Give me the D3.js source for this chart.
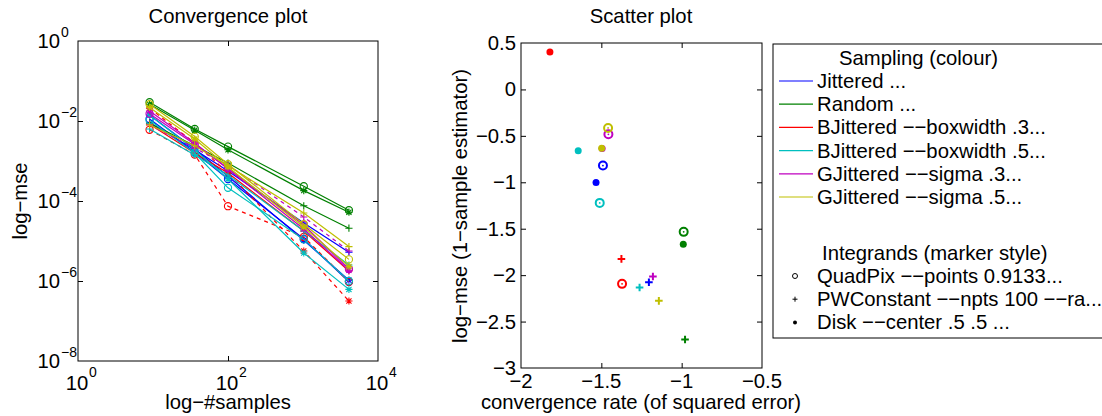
<!DOCTYPE html>
<html>
<head>
<meta charset="utf-8">
<title>Convergence and scatter plot</title>
<script src="https://cdn.jsdelivr.net/npm/d3@7"></script>
<style>
  body { margin: 0; background: #fff; }
  svg { display: block; font-family: "Liberation Sans", Arial, Helvetica, sans-serif; }
  text { fill: #000; }
</style>
</head>
<body>
<svg id="chart" width="1102" height="416"></svg>
<script>
// number of samples used in each run
var samples = [9, 36, 100, 1024, 4096];

// sampling methods (colour) and integrands (marker)
var methods = ['Jittered ...', 'Random ...', 'BJittered \u2212\u2212boxwidth .3...',
  'BJittered \u2212\u2212boxwidth .5...', 'GJittered \u2212\u2212sigma .3...', 'GJittered \u2212\u2212sigma .5...'];
var integrands = ['QuadPix \u2212\u2212points 0.9133...', 'PWConstant \u2212\u2212npts 100 \u2212\u2212ra...',
  'Disk \u2212\u2212center .5 .5 ...'];

// log10(mse) per method, rows = QuadPix, PWConstant, Disk
var jitteredMse = [[-1.95, -2.78, -3.45, -4.95, -6.02], [-2.05, -2.72, -3.25, -4.55, -5.28], [-1.85, -2.70, -3.38, -4.98, -5.98]];
var randomMse = [[-1.53, -2.20, -2.64, -3.63, -4.23], [-2.05, -2.62, -3.05, -4.12, -4.68], [-1.58, -2.23, -2.72, -3.74, -4.28]];
var bjit3Mse = [[-2.22, -2.84, -4.13, -4.90, -6.02], [-2.08, -2.80, -3.30, -4.75, -5.75], [-1.68, -2.55, -3.30, -5.25, -6.50]];
var bjit5Mse = [[-1.98, -2.80, -3.67, -4.96, -6.00], [-2.20, -2.85, -3.35, -4.75, -5.60], [-1.85, -2.72, -3.45, -5.30, -6.21]];
var gjit3Mse = [[-1.82, -2.58, -3.18, -4.60, -5.70], [-2.10, -2.68, -3.10, -4.40, -5.25], [-1.75, -2.55, -3.20, -4.70, -5.73]];
var gjit5Mse = [[-1.58, -2.39, -3.08, -4.58, -5.46], [-2.10, -2.62, -3.12, -4.30, -5.14], [-1.66, -2.45, -3.15, -4.65, -5.64]];

// scatter: convergence rate and 1-sample log-mse, rows = methods, cols = integrands
var convRate = [[-1.49, -1.204, -1.533], [-0.9875, -0.979, -0.99], [-1.371, -1.375, -1.82],
  [-1.51, -1.262, -1.644], [-1.456, -1.179, -1.495], [-1.458, -1.142, -1.498]];
var oneSampleMse = [[-0.82, -2.076, -1.003], [-1.534, -2.693, -1.667], [-2.094, -1.825, 0.403],
  [-1.222, -2.133, -0.66], [-0.483, -2.015, -0.635], [-0.415, -2.277, -0.633]];

// tick values
var convXTicks = [1, 100, 10000];
var convYTicks = [1, 1e-2, 1e-4, 1e-6, 1e-8];
var scatXTicks = [-2, -1.5, -1, -0.5];
var scatYTicks = [0.5, 0, -0.5, -1, -1.5, -2, -2.5, -3];

var colors = ['#0000ff', '#008000', '#ff0000', '#00bfbf', '#bf00bf', '#bfbf00'];
var markers = ['o', '+', '*'];
var dashed = { '2-0': true, '2-2': true, '4-1': true };
var fs = 20.3;

var allMse = [jitteredMse, randomMse, bjit3Mse, bjit5Mse, gjit3Mse, gjit5Mse];
var svg = d3.select('#chart');
var minus = function (s) { return String(s).replace('-', '\u2212'); };

function drawMarker(g, type, x, y, color, s, sw) {
  if (type == 'o') {
    g.append('circle').attr('cx', x).attr('cy', y).attr('r', s)
      .attr('fill', 'none').attr('stroke', color).attr('stroke-width', sw);
  } else if (type == '.') {
    g.append('circle').attr('cx', x).attr('cy', y).attr('r', s).attr('fill', color);
  } else {
    var p = 'M' + (x - s) + ',' + y + 'H' + (x + s) + 'M' + x + ',' + (y - s) + 'V' + (y + s);
    if (type == '*') {
      var d = s * 0.72;
      p += 'M' + (x - d) + ',' + (y - d) + 'L' + (x + d) + ',' + (y + d) +
        'M' + (x - d) + ',' + (y + d) + 'L' + (x + d) + ',' + (y - d);
    }
    g.append('path').attr('d', p).attr('fill', 'none').attr('stroke', color).attr('stroke-width', sw);
  }
}

function box(x0, y0, x1, y1) {
  svg.append('rect').attr('x', x0).attr('y', y0).attr('width', x1 - x0).attr('height', y1 - y0)
    .attr('fill', 'none').attr('stroke', '#000').attr('stroke-width', 1);
}

function inTicks(xs, ys, x0, y0, x1, y1, xt, yt) {
  var t = 5;
  var g = svg.append('g');
  g.append('g').attr('transform', 'translate(0,' + y1 + ')')
    .call(d3.axisBottom(xs).tickValues(xt).tickSize(-t).tickSizeOuter(0).tickFormat(''));
  g.append('g').attr('transform', 'translate(0,' + y0 + ')')
    .call(d3.axisTop(xs).tickValues(xt).tickSize(-t).tickSizeOuter(0).tickFormat(''));
  g.append('g').attr('transform', 'translate(' + x0 + ',0)')
    .call(d3.axisLeft(ys).tickValues(yt).tickSize(-t).tickSizeOuter(0).tickFormat(''));
  g.append('g').attr('transform', 'translate(' + x1 + ',0)')
    .call(d3.axisRight(ys).tickValues(yt).tickSize(-t).tickSizeOuter(0).tickFormat(''));
  g.selectAll('.domain').remove();
  g.selectAll('line').attr('stroke', '#000');
}

// ---------- convergence plot ----------
var L = { x0: 78, x1: 378, y0: 41, y1: 361 };
var x = d3.scaleLog().domain([1, 1e4]).range([L.x0, L.x1]);
var y = d3.scaleLog().domain([1e-8, 1]).range([L.y1, L.y0]);

var conv = svg.append('g');
allMse.forEach(function (rows, m) {
  rows.forEach(function (vals, k) {
    var pts = vals.map(function (v, i) { return [samples[i], Math.pow(10, v)]; });
    var line = d3.line().x(function (d) { return x(d[0]); }).y(function (d) { return y(d[1]); });
    conv.append('path').datum(pts).attr('d', line)
      .attr('fill', 'none').attr('stroke', colors[m]).attr('stroke-width', 1.2)
      .attr('stroke-dasharray', dashed[m + '-' + k] ? '4,4' : null);
    pts.forEach(function (d) {
      drawMarker(conv, markers[k], x(d[0]), y(d[1]), colors[m], 3.6, 1.1);
    });
  });
});

box(L.x0, L.y0, L.x1, L.y1);
inTicks(x, y, L.x0, L.y0, L.x1, L.y1, [100], [1e-2, 1e-4, 1e-6]);

convYTicks.forEach(function (v) {
  var e = Math.round(Math.log10(v));
  svg.append('text').attr('x', 60).attr('y', y(v) + 7).attr('text-anchor', 'end')
    .attr('font-size', fs).text('10');
  svg.append('text').attr('x', 61).attr('y', y(v) - 4)
    .attr('font-size', 14).text(minus(e));
});
convXTicks.forEach(function (v) {
  var e = Math.round(Math.log10(v));
  svg.append('text').attr('x', x(v) - 1).attr('y', 390).attr('text-anchor', 'middle')
    .attr('font-size', fs).text('10');
  svg.append('text').attr('x', x(v) + 11).attr('y', 377)
    .attr('font-size', 14).text(minus(e));
});

svg.append('text').attr('x', 228).attr('y', 23).attr('text-anchor', 'middle')
  .attr('font-size', fs).text('Convergence plot');
svg.append('text').attr('x', 228).attr('y', 409).attr('text-anchor', 'middle')
  .attr('font-size', fs).text('log\u2212#samples');
svg.append('text').attr('transform', 'translate(27,201) rotate(-90)').attr('text-anchor', 'middle')
  .attr('font-size', fs).text('log\u2212mse');

// ---------- scatter plot ----------
var R = { x0: 521, x1: 762, y0: 43, y1: 368 };
var sx = d3.scaleLinear().domain([-2, -0.5]).range([R.x0, R.x1]);
var sy = d3.scaleLinear().domain([-3, 0.5]).range([R.y1, R.y0]);

var scat = svg.append('g');
// draw dots first, then rings and crosses
[2, 0, 1].forEach(function (k) {
  convRate.forEach(function (rates, m) {
    var cx = sx(rates[k]), cy = sy(oneSampleMse[m][k]);
    if (k == 0) {
      drawMarker(scat, 'o', cx, cy, colors[m], 4, 2);
      drawMarker(scat, '.', cx, cy, colors[m], 0.9, 0);
    } else if (k == 1) {
      drawMarker(scat, '+', cx, cy, colors[m], 3.8, 2);
    } else {
      drawMarker(scat, '.', cx, cy, colors[m], 3.5, 0);
    }
  });
});

box(R.x0, R.y0, R.x1, R.y1);
inTicks(sx, sy, R.x0, R.y0, R.x1, R.y1, [-1.5, -1], [0, -0.5, -1, -1.5, -2, -2.5]);

scatYTicks.forEach(function (v) {
  svg.append('text').attr('x', 516).attr('y', sy(v) + 7).attr('text-anchor', 'end')
    .attr('font-size', fs).text(minus(v));
});
scatXTicks.forEach(function (v) {
  svg.append('text').attr('x', sx(v)).attr('y', 388).attr('text-anchor', 'middle')
    .attr('font-size', fs).text(minus(v));
});

svg.append('text').attr('x', 641).attr('y', 23).attr('text-anchor', 'middle')
  .attr('font-size', fs).text('Scatter plot');
svg.append('text').attr('x', 641).attr('y', 409).attr('text-anchor', 'middle')
  .attr('font-size', fs).text('convergence rate (of squared error)');
svg.append('text').attr('transform', 'translate(467,206) rotate(-90)').attr('text-anchor', 'middle')
  .attr('font-size', fs).text('log\u2212mse (1\u2212sample estimator)');

// ---------- legend ----------
var leg = svg.append('g');
leg.append('rect').attr('x', 773).attr('y', 44).attr('width', 400).attr('height', 294)
  .attr('fill', '#fff').attr('stroke', '#000').attr('stroke-width', 1);
leg.append('text').attr('x', 839).attr('y', 65).attr('font-size', fs).text('Sampling (colour)');
methods.forEach(function (name, m) {
  var ry = 81 + m * 23.2;
  leg.append('line').attr('x1', 779).attr('x2', 813).attr('y1', ry).attr('y2', ry)
    .attr('stroke', colors[m]).attr('stroke-width', 1.2);
  leg.append('text').attr('x', 817).attr('y', ry + 7).attr('font-size', fs).text(name);
});
leg.append('text').attr('x', 822).attr('y', 260).attr('font-size', fs).text('Integrands (marker style)');
integrands.forEach(function (name, k) {
  var ry = 276 + k * 23.2;
  if (k == 0) drawMarker(leg, 'o', 795, ry, '#000', 2.5, 1);
  else if (k == 1) drawMarker(leg, '+', 795, ry, '#000', 2.5, 1);
  else drawMarker(leg, '.', 795, ry, '#000', 2, 0);
  leg.append('text').attr('x', 817).attr('y', ry + 7).attr('font-size', fs).text(name);
});
</script>
</body>
</html>
